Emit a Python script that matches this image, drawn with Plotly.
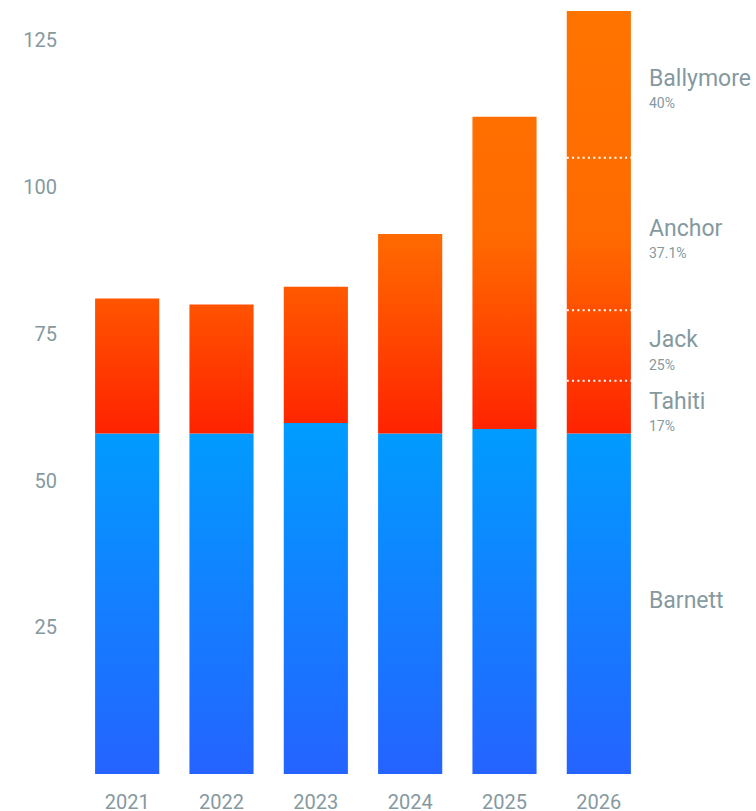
import plotly.graph_objects as go

years = ["2021", "2022", "2023", "2024", "2025", "2026"]
barnett = [58, 58, 59.8, 58, 58.8, 58]
others = [23, 22, 23.2, 34, 53.2, 72]

# breakdown of the 2026 "others" stack (bottom to top)
seg_names = ["Tahiti", "Jack", "Anchor", "Ballymore"]
seg_values = [9, 12, 26, 25]
seg_pct = ["17%", "25%", "37.1%", "40%"]

TEXT = "#85999f"
FONT = "Roboto"
BAR_W = 0.68

fig = go.Figure()

blue_scale = [[0, "#2563ff"], [1, "#009dff"]]
orange_scale = [[0, "#ff2200"], [0.32, "#ff5500"], [0.47, "#ff6a00"], [1, "#ff7400"]]

def rect(i, y0, y1):
    xs = [i - BAR_W / 2, i + BAR_W / 2, i + BAR_W / 2, i - BAR_W / 2, i - BAR_W / 2]
    ys = [y0, y0, y1, y1, y0]
    return xs, ys

for i, (b, o) in enumerate(zip(barnett, others)):
    xs, ys = rect(i, 0, b)
    fig.add_trace(go.Scatter(
        x=xs, y=ys, mode="lines", fill="toself", line=dict(width=0),
        fillgradient=dict(type="vertical", colorscale=blue_scale, start=0, stop=60),
        hoverinfo="skip", showlegend=False))
    xs, ys = rect(i, b, b + o)
    fig.add_trace(go.Scatter(
        x=xs, y=ys, mode="lines", fill="toself", line=dict(width=0),
        fillgradient=dict(type="vertical", colorscale=orange_scale, start=58, stop=130),
        hoverinfo="skip", showlegend=False))

# dotted separators within the 2026 bar
last = len(years) - 1
cum = barnett[last]
bounds = []
for v in seg_values:
    bounds.append((cum, cum + v))
    cum += v
for (lo, hi) in bounds[:-1]:
    fig.add_trace(go.Scatter(
        x=[last - BAR_W / 2, last + BAR_W / 2], y=[hi, hi], mode="lines",
        line=dict(color="white", width=2, dash="2px,3.3px"),
        hoverinfo="skip", showlegend=False))

annotations = []
for name, pct, (lo, hi) in zip(seg_names, seg_pct, bounds):
    mid = (lo + hi) / 2
    annotations.append(dict(x=1, xref="paper", y=mid, yref="y", xanchor="left",
                            yanchor="middle", xshift=1, yshift=6, showarrow=False,
                            text=name, font=dict(family=FONT, size=23, color=TEXT)))
    annotations.append(dict(x=1, xref="paper", y=mid, yref="y", xanchor="left",
                            yanchor="middle", xshift=1, yshift=-19, showarrow=False,
                            text=pct, font=dict(family=FONT, size=14, color=TEXT)))
annotations.append(dict(x=1, xref="paper", y=barnett[last] / 2, yref="y", xanchor="left",
                        yanchor="middle", xshift=1, yshift=3, showarrow=False,
                        text="Barnett", font=dict(family=FONT, size=23, color=TEXT)))

fig.update_layout(
    width=756, height=811,
    margin=dict(l=80, r=110, t=11, b=37),
    plot_bgcolor="white", paper_bgcolor="white",
    showlegend=False,
    annotations=annotations,
    font=dict(family=FONT, color=TEXT, size=20),
    xaxis=dict(range=[-0.5, 5.5], tickvals=list(range(len(years))), ticktext=years,
               showgrid=False, zeroline=False, showline=False,
               ticks="outside", ticklen=10, tickcolor="rgba(0,0,0,0)",
               tickfont=dict(family=FONT, size=20, color=TEXT), automargin=False),
    yaxis=dict(range=[0, 130], tickvals=[25, 50, 75, 100, 125],
               showgrid=False, zeroline=False, showline=False,
               ticks="outside", ticklen=18, tickcolor="rgba(0,0,0,0)",
               tickfont=dict(family=FONT, size=20, color=TEXT), automargin=False),
)

fig.write_html("out.html")
